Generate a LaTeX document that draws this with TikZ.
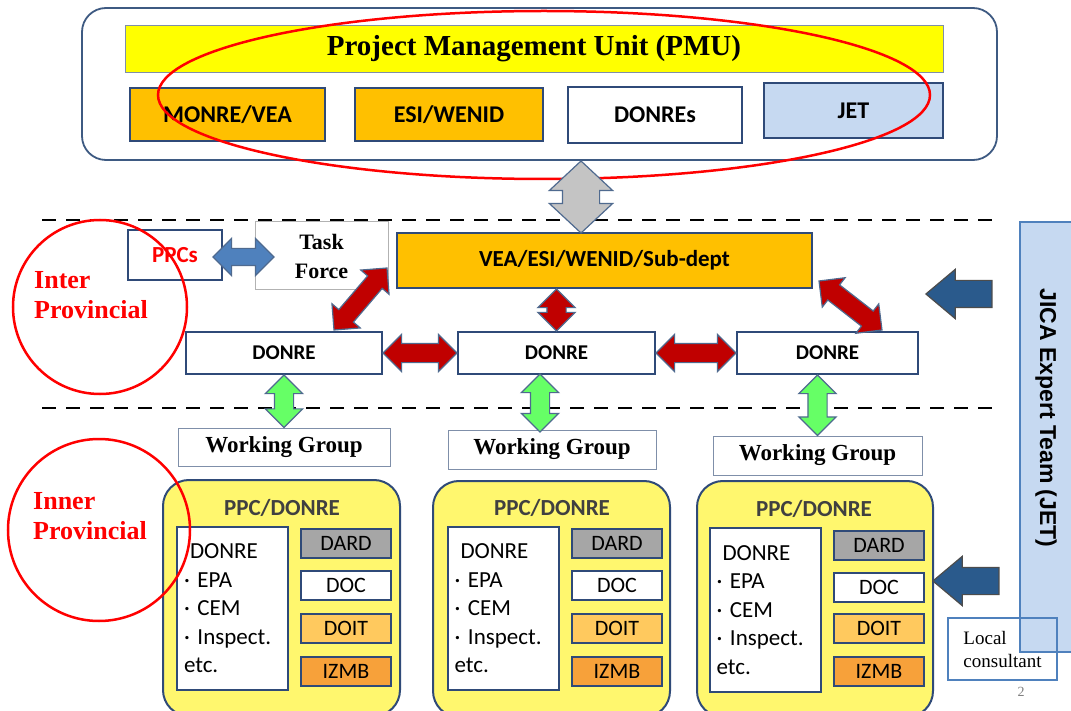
\documentclass[tikz,border=0pt]{standalone}
\usepackage{fontspec}
\setmainfont{Liberation Serif}
\setsansfont{Carlito}
\newfontfamily\arialfont{Liberation Sans}
\usepackage{tikz}
\usetikzlibrary{shapes.arrows,calc}
\definecolor{frameline}{HTML}{3E5A82}
\definecolor{boxline}{HTML}{2F4A78}
\definecolor{pmuyellow}{HTML}{FFFF00}
\definecolor{unitgold}{HTML}{FFC000}
\definecolor{jetblue}{HTML}{C6D9F1}
\definecolor{arrline}{HTML}{4F6A8F}
\definecolor{redarr}{HTML}{C00000}
\definecolor{grayarr}{HTML}{C4C4C4}
\definecolor{bluearr}{HTML}{4F81BD}
\definecolor{jetarr}{HTML}{2A5A8C}
\definecolor{greenarr}{HTML}{66FF66}
\definecolor{panelfill}{HTML}{FFF76E}
\definecolor{dard}{HTML}{A6A6A6}
\definecolor{doit}{HTML}{FFC95E}
\definecolor{izmb}{HTML}{F7A13A}
\definecolor{titlegray}{HTML}{404040}
\definecolor{wgline}{HTML}{7F8FA9}
\tikzset{frame/.style={draw=frameline,fill=white,line width=1.8pt,rounded corners=24pt}}
\tikzset{bar/.style={draw=wgline,fill=pmuyellow,line width=0.8pt,font=\bfseries\fontsize{29}{32}\selectfont}}
\tikzset{unit/.style={draw=boxline,line width=2pt,font=\sffamily\bfseries\fontsize{24}{28}\selectfont}}
\tikzset{donre/.style={draw=boxline,fill=white,line width=2pt,font=\sffamily\bfseries\fontsize{21}{24}\selectfont}}
\tikzset{taskbox/.style={draw=black!30,fill=white,line width=1pt,align=center,font=\bfseries\fontsize{22}{29}\selectfont}}
\tikzset{wgroup/.style={draw=wgline,fill=white,line width=1pt,font=\bfseries\fontsize{23}{26}\selectfont}}
\tikzset{zone/.style={text=red,align=left,inner sep=0pt,font=\bfseries\fontsize{26}{30}\selectfont}}
\tikzset{ring/.style={draw=red,line width=2.5pt}}
\tikzset{sepline/.style={draw=black,line width=2.5pt,dash pattern=on 14pt off 10pt}}
\tikzset{panel/.style={draw=boxline,fill=panelfill,line width=2pt,rounded corners=26pt}}
\tikzset{paneltitle/.style={text=titlegray,font=\sffamily\bfseries\fontsize{23}{26}\selectfont}}
\tikzset{listbox/.style={draw=boxline,fill=white,line width=2pt,align=left,text width=97pt,inner sep=7pt,font=\sffamily\fontsize{23}{28.5}\selectfont}}
\tikzset{dept/.style={draw=boxline,line width=2pt,minimum width=90pt,minimum height=29pt,inner sep=0pt,font=\sffamily\fontsize{22}{24}\selectfont}}
\tikzset{redlink/.style={double arrow,draw=arrline,fill=redarr,line width=1.2pt,inner xsep=0pt,inner ysep=9pt,double arrow head extend=9pt}}
\tikzset{greenlink/.style={double arrow,draw=arrline,fill=greenarr,line width=1.2pt,inner xsep=0pt,inner ysep=9pt,double arrow head extend=9pt}}
\tikzset{graylink/.style={double arrow,draw=arrline,fill=grayarr,line width=1.2pt,inner xsep=0pt,inner ysep=18pt,double arrow head extend=13pt,double arrow tip angle=94}}
\tikzset{bluelink/.style={double arrow,draw=arrline,fill=bluearr,line width=1.2pt,inner xsep=0pt,inner ysep=8pt,double arrow head extend=10pt}}
\tikzset{jetlink/.style={single arrow,draw=black!70,fill=jetarr,line width=1.2pt,inner xsep=0pt,inner ysep=13pt,single arrow head extend=11pt,single arrow tip angle=80}}
% block arrow between two points: style, name, from, to
\newcommand{\blockarrow}[4]{%
  \path let \p1=(#3), \p2=(#4),
    \n1={atan2(\y2-\y1,\x2-\x1)}, \n2={veclen(\x2-\x1,\y2-\y1)} in
    node[#1,rotate=\n1,minimum height=\n2] (#2) at ($(#3)!0.5!(#4)$) {};}

\begin{document}
\begin{tikzpicture}[x=1pt,y=-1pt]
    \useasboundingbox (0,0) rectangle (1071,711);
    \fill[white] (0,0) rectangle (1071,711);
    \clip (0,0) rectangle (1071,711);

    % PMU
    \node[frame,minimum width=915pt,minimum height=152pt] (pmuframe) at (539.5,84) {};
    \node[bar,minimum width=818pt,minimum height=47pt] (pmu) at (534,48.5) {Project Management Unit (PMU)};
    \node[unit,fill=unitgold,minimum width=195pt,minimum height=53pt] (monre) at (227.5,114.5) {MONRE/VEA};
    \node[unit,fill=unitgold,minimum width=188pt,minimum height=53pt] (esi) at (449,114.5) {ESI/WENID};
    \node[unit,fill=white,minimum width=174pt,minimum height=56pt] (donres) at (655,115) {DONREs};
    \node[unit,fill=jetblue,minimum width=179pt,minimum height=55pt] (jet) at (853.5,110.5) {JET};
    \draw[ring] (544,95) ellipse [x radius=386pt,y radius=84pt];

    \draw[sepline] (42,220) -- (998,220);
    \draw[sepline] (42,408) -- (1000,408);

    % inter provincial
    \node[zone,anchor=west] (inter) at (34,295) {Inter\\Provincial};
    \node[donre,text=red,font=\sffamily\bfseries\fontsize{23}{26}\selectfont,minimum width=94pt,minimum height=50pt] (ppcs) at (175,255) {PPCs};
    \node[taskbox,minimum width=133pt,minimum height=68pt] (task) at (321.5,256) {Task\\Force};
    \node[donre,fill=unitgold,font=\sffamily\bfseries\fontsize{23}{26}\selectfont,minimum width=415pt,minimum height=55pt] (vea) at (604.5,260.5) {VEA/ESI/WENID/Sub-dept};
    \node[donre,minimum width=196pt,minimum height=42pt] (dnL) at (284,353) {DONRE};
    \node[donre,minimum width=197pt,minimum height=42pt] (dnM) at (556.5,353) {DONRE};
    \node[donre,minimum width=181pt,minimum height=42pt] (dnR) at (827.5,353) {DONRE};

    % inner provincial
    \node[zone,anchor=west] (inner) at (33,516) {Inner\\Provincial};
    \node[wgroup,minimum width=212pt,minimum height=38pt] (wg1) at (284,447) {Working Group};
    \node[wgroup,minimum width=208pt,minimum height=39pt] (wg2) at (552,449.5) {Working Group};
    \node[wgroup,minimum width=209pt,minimum height=39pt] (wg3) at (817.5,455.5) {Working Group};

    \node[panel,minimum width=237pt,minimum height=236pt] (panelA) at (281.5,598) {};
    \node[paneltitle] (titleA) at (282,508) {PPC/DONRE};
    \node[listbox,minimum height=163pt] (listA) at (232.5,608.5) {\hspace*{6pt}DONRE\\· EPA\\· CEM\\· Inspect.\\etc.};
    \node[dept,fill=dard] (dardA) at (346,543) {DARD};
    \node[dept,fill=white] (docA) at (346,585.5) {DOC};
    \node[dept,fill=doit] (doitA) at (346,628) {DOIT};
    \node[dept,fill=izmb] (izmbA) at (346,671) {IZMB};

    \node[panel,minimum width=237pt,minimum height=236pt] (panelB) at (551.5,599) {};
    \node[paneltitle] (titleB) at (552,508) {PPC/DONRE};
    \node[listbox,minimum height=163pt] (listB) at (503,608.5) {\hspace*{6pt}DONRE\\· EPA\\· CEM\\· Inspect.\\etc.};
    \node[dept,fill=dard] (dardB) at (617,543) {DARD};
    \node[dept,fill=white] (docB) at (617,585.5) {DOC};
    \node[dept,fill=doit] (doitB) at (617,628) {DOIT};
    \node[dept,fill=izmb] (izmbB) at (617,671) {IZMB};

    \node[panel,minimum width=236pt,minimum height=236pt] (panelC) at (815,599) {};
    \node[paneltitle] (titleC) at (814,509) {PPC/DONRE};
    \node[listbox,minimum height=164pt] (listC) at (765,610) {\hspace*{6pt}DONRE\\· EPA\\· CEM\\· Inspect.\\etc.};
    \node[dept,fill=dard] (dardC) at (879,545) {DARD};
    \node[dept,fill=white] (docC) at (879,587) {DOC};
    \node[dept,fill=doit] (doitC) at (879,628) {DOIT};
    \node[dept,fill=izmb] (izmbC) at (879,671.5) {IZMB};

    % red rings over the boxes
    \draw[ring] (100,307) circle [radius=87pt];
    \draw[ring] (99,530) circle [radius=91pt];

    % JICA side
    \node[draw=bluearr,fill=jetblue,line width=1.5pt,minimum width=66pt,minimum height=430pt] (jica) at (1053,437) {};
    \node[rotate=-90,font=\arialfont\bfseries\fontsize{23}{26}\selectfont] (jicatext) at (1046,418) {JICA Expert Team (JET)};
    \node[draw=bluearr,line width=2pt,minimum width=109pt,minimum height=62pt,align=left,font=\fontsize{19}{23}\selectfont] (local) at (1002.5,649) {Local\\consultant};
    \node[text=gray,font=\fontsize{14}{16}\selectfont] (pagenum) at (1021,692) {2};

    % links
    \coordinate (pmuout) at (581,161);
    \coordinate (veain) at (581,233);
    \coordinate (ppcin) at (213,257);
    \coordinate (taskin) at (274,257);
    \coordinate (dnLtop) at (334,330);
    \coordinate (taskcorner) at (387,268);
    \coordinate (veabottom) at (dnM.north |- vea.south);
    \coordinate (veacorner) at (819,281);
    \coordinate (dnRtop) at (882,330);
    \coordinate (gB1) at (540,374);
    \coordinate (gB2) at (540,432);
    \coordinate (gC1) at (wg3.north |- dnR.south);
    \coordinate (jetA1) at (1000,294);
    \coordinate (jetA2) at (934,294);
    \coordinate (jetB1) at (1007,581);
    \coordinate (jetB2) at (941,581);

    \blockarrow{graylink}{grayA}{pmuout}{veain}
    \blockarrow{bluelink}{blueA}{ppcin}{taskin}
    \blockarrow{redlink}{redA}{dnLtop}{taskcorner}
    \blockarrow{redlink}{redB}{veabottom}{dnM.north}
    \blockarrow{redlink}{redC}{veacorner}{dnRtop}
    \blockarrow{redlink}{redD}{dnL.east}{dnM.west}
    \blockarrow{redlink}{redE}{dnM.east}{dnR.west}
    \blockarrow{greenlink}{greenA}{dnL.south}{wg1.north}
    \blockarrow{greenlink}{greenB}{gB1}{gB2}
    \blockarrow{greenlink}{greenC}{gC1}{wg3.north}
    \blockarrow{jetlink}{jetA}{jetA1}{jetA2}
    \blockarrow{jetlink}{jetB}{jetB1}{jetB2}

  \end{tikzpicture}
\end{document}
